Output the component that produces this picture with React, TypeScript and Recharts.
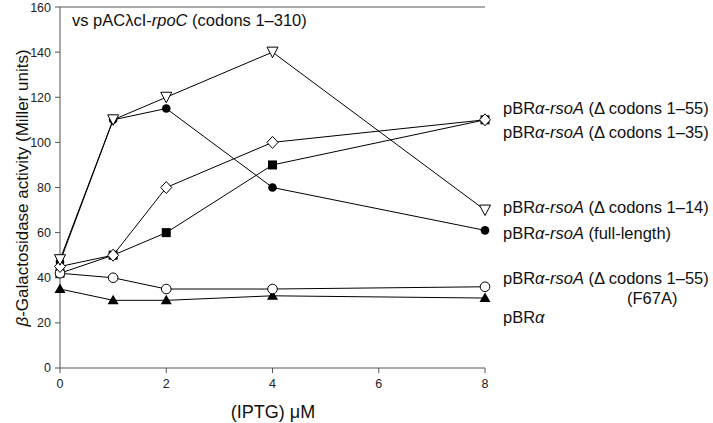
import { LineChart, Line, XAxis, YAxis, ReferenceLine, Customized } from "recharts";

const iptg = [0, 1, 2, 4, 8];
const delta14 = [48, 110, 120, 140, 70];
const fullLength = [47, 110, 115, 80, 61];
const delta35 = [45, 50, 80, 100, 110];
const delta55 = [42, 50, 60, 90, 110];
const f67a = [42, 40, 35, 35, 36];
const pbra = [35, 30, 30, 32, 31];
const xTicks = [0, 2, 4, 6, 8];
const yTicks = [0, 20, 40, 60, 80, 100, 120, 140, 160];

const rows = iptg.map((x, i) => ({
  x,
  delta14: delta14[i],
  fullLength: fullLength[i],
  delta35: delta35[i],
  delta55: delta55[i],
  f67a: f67a[i],
  pbra: pbra[i],
}));

const FONT = "'Liberation Sans', Arial, sans-serif";

type DotProps = { cx?: number; cy?: number; index?: number };

const invTri = ({ cx = 0, cy = 0, index }: DotProps) => (
  <path key={index} d={`M${cx - 5.5},${cy - 5} L${cx + 5.5},${cy - 5} L${cx},${cy + 5.5} Z`} fill="#fff" stroke="#000" strokeWidth={1} />
);
const fullDot = ({ cx = 0, cy = 0, index }: DotProps) => (
  <circle key={index} cx={cx} cy={cy} r={4.3} fill="#000" />
);
const openDiamond = ({ cx = 0, cy = 0, index }: DotProps) => (
  <path key={index} d={`M${cx},${cy - 6} L${cx + 5.5},${cy} L${cx},${cy + 6} L${cx - 5.5},${cy} Z`} fill="#fff" stroke="#000" strokeWidth={1} />
);
const fullSquare = ({ cx = 0, cy = 0, index }: DotProps) => (
  <rect key={index} x={cx - 4.5} y={cy - 4.5} width={9} height={9} fill="#000" />
);
const openCircle = ({ cx = 0, cy = 0, index }: DotProps) => (
  <circle key={index} cx={cx} cy={cy} r={4.8} fill="#fff" stroke="#000" strokeWidth={1} />
);
const fullTri = ({ cx = 0, cy = 0, index }: DotProps) => (
  <path key={index} d={`M${cx},${cy - 5.5} L${cx + 5.5},${cy + 4} L${cx - 5.5},${cy + 4} Z`} fill="#000" />
);

const Label = ({ y, tail }: { y: number; tail: string }) => (
  <text x={503} y={y} fontSize={16.5} fontFamily={FONT} fill="#111" dominantBaseline="central">
    pBR<tspan fontStyle="italic">α</tspan>-<tspan fontStyle="italic">rsoA</tspan>
    {tail}
  </text>
);

const Annotations = () => (
  <g>
    <text x={72} y={20} fontSize={16.5} fontFamily={FONT} fill="#111" dominantBaseline="central">
      vs pACλcI-<tspan fontStyle="italic">rpoC</tspan> (codons 1–310)
    </text>
    <Label y={108} tail=" (Δ codons 1–55)" />
    <Label y={132} tail=" (Δ codons 1–35)" />
    <Label y={207} tail=" (Δ codons 1–14)" />
    <Label y={233} tail=" (full-length)" />
    <Label y={278} tail=" (Δ codons 1–55)" />
    <text x={627} y={298} fontSize={16.5} fontFamily={FONT} fill="#111" dominantBaseline="central">
      (F67A)
    </text>
    <text x={503} y={317} fontSize={16.5} fontFamily={FONT} fill="#111" dominantBaseline="central">
      pBR<tspan fontStyle="italic">α</tspan>
    </text>
    <text x={273} y={412} fontSize={18} fontFamily={FONT} fill="#111" textAnchor="middle" dominantBaseline="central">
      (IPTG) μM
    </text>
    <text
      x={22}
      y={188}
      fontSize={17}
      fontFamily={FONT}
      fill="#111"
      textAnchor="middle"
      dominantBaseline="central"
      transform="rotate(-90 22 188)"
    >
      <tspan fontStyle="italic">β</tspan>-Galactosidase activity (Miller units)
    </text>
  </g>
);

export default function App() {
  const tick = { fontSize: 12.5, fontFamily: FONT, fill: "#222" };
  return (
    <div style={{ position: "absolute", left: 0, top: 0, background: "#fff" }}>
      <LineChart width={713} height={423} data={rows} margin={{ top: 7, right: 228, bottom: 25, left: 20 }}>
        <XAxis
          dataKey="x"
          type="number"
          domain={[0, 8]}
          ticks={xTicks}
          tick={tick}
          stroke="#555"
          tickSize={5}
          tickMargin={6}
          height={30}
        />
        <YAxis
          type="number"
          domain={[0, 160]}
          ticks={yTicks}
          tick={tick}
          stroke="#555"
          tickSize={5}
          tickMargin={4}
          width={40}
        />
        <ReferenceLine y={160} stroke="#555" strokeWidth={1} ifOverflow="extendDomain" />
        <Line dataKey="pbra" stroke="#000" strokeWidth={1} dot={fullTri} isAnimationActive={false} />
        <Line dataKey="delta55" stroke="#000" strokeWidth={1} dot={fullSquare} isAnimationActive={false} />
        <Line dataKey="fullLength" stroke="#000" strokeWidth={1} dot={fullDot} isAnimationActive={false} />
        <Line dataKey="f67a" stroke="#000" strokeWidth={1} dot={openCircle} isAnimationActive={false} />
        <Line dataKey="delta35" stroke="#000" strokeWidth={1} dot={openDiamond} isAnimationActive={false} />
        <Line dataKey="delta14" stroke="#000" strokeWidth={1} dot={invTri} isAnimationActive={false} />
        <Customized component={Annotations} />
      </LineChart>
    </div>
  );
}
